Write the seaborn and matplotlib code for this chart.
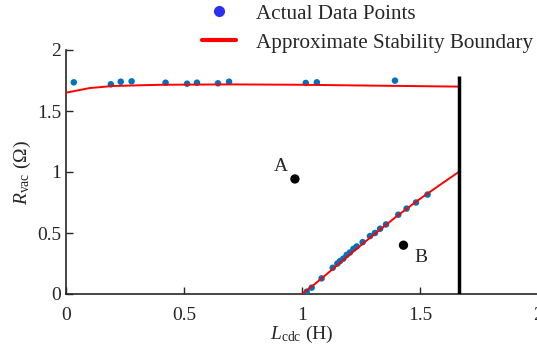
import numpy as np
import pandas as pd
import seaborn as sns
import matplotlib
matplotlib.use('Agg')
import matplotlib.pyplot as plt
from matplotlib.lines import Line2D

# puntos medidos, rama superior
upper_x = [0.033, 0.190, 0.232, 0.278, 0.422, 0.513, 0.555, 0.644, 0.691, 1.016, 1.063, 1.394]
upper_y = [1.735, 1.719, 1.740, 1.743, 1.732, 1.724, 1.732, 1.727, 1.740, 1.730, 1.735, 1.749]

# puntos medidos, rama inferior
lower_x = [1.020, 1.041, 1.083, 1.130, 1.150, 1.161, 1.175, 1.189, 1.203, 1.218, 1.232,
           1.257, 1.288, 1.309, 1.331, 1.356, 1.408, 1.443, 1.483, 1.532]
lower_y = [0.019, 0.052, 0.128, 0.215, 0.250, 0.270, 0.290, 0.320, 0.340, 0.370, 0.390,
           0.425, 0.475, 0.500, 0.535, 0.570, 0.650, 0.700, 0.750, 0.815]

# frontera aproximada (dos tramos)
bound_up_x = [0.0, 0.1, 0.2, 0.4, 0.7, 1.0, 1.3, 1.664]
bound_up_y = [1.650, 1.688, 1.705, 1.715, 1.718, 1.715, 1.708, 1.700]
bound_lo_x = [1.0, 1.05, 1.1, 1.2, 1.3, 1.4, 1.5, 1.6, 1.664]
bound_lo_y = [0.0, 0.075, 0.155, 0.320, 0.480, 0.635, 0.780, 0.915, 1.0]

# limite vertical
limit_x = 1.664
limit_top = 1.787

# puntos de operacion A y B
op_labels = ['A', 'B']
op_x = [0.970, 1.430]
op_y = [0.943, 0.400]

sns.set_style('ticks')
plt.rcParams['font.family'] = ['Liberation Serif', 'DejaVu Serif']
plt.rcParams['mathtext.fontset'] = 'custom'
plt.rcParams['mathtext.rm'] = 'Liberation Serif'
plt.rcParams['mathtext.it'] = 'Liberation Serif:italic'

blue = '#0072BD'
red = '#FF0000'

fig = plt.figure(figsize=(5.37, 3.52), dpi=100)
ax = fig.add_axes([66 / 537, 58 / 352, 472 / 537, 244 / 352])

pts = pd.DataFrame({'x': upper_x + lower_x, 'y': upper_y + lower_y})
sns.scatterplot(data=pts, x='x', y='y', color=blue, s=22, edgecolor='none', ax=ax, zorder=3)

up = pd.DataFrame({'x': bound_up_x, 'y': bound_up_y})
lo = pd.DataFrame({'x': bound_lo_x, 'y': bound_lo_y})
sns.lineplot(data=up, x='x', y='y', color=red, lw=1.4, ax=ax, zorder=4, sort=False)
sns.lineplot(data=lo, x='x', y='y', color=red, lw=1.4, ax=ax, zorder=4, sort=False)

ax.vlines(limit_x, 0, limit_top, color='black', lw=2.5, zorder=5)

ops = pd.DataFrame({'x': op_x, 'y': op_y})
sns.scatterplot(data=ops, x='x', y='y', color='black', s=45, edgecolor='none', ax=ax, zorder=5)
ax.annotate(op_labels[0], (op_x[0], op_y[0]), xytext=(-15, 6), textcoords='offset points',
            fontsize=14)
ax.annotate(op_labels[1], (op_x[1], op_y[1]), xytext=(8, -12), textcoords='offset points',
            fontsize=14)

ax.set_xlim(0, 2)
ax.set_ylim(0, 2)
ax.set_xticks([0, 0.5, 1, 1.5, 2])
ax.set_xticklabels(['0', '0.5', '1', '1.5', '2'])
ax.set_yticks([0, 0.5, 1, 1.5, 2])
ax.set_yticklabels(['0', '0.5', '1', '1.5', '2'])
ax.tick_params(direction='in', length=5, width=1, labelsize=14, colors='#262626',
               labelcolor='#262626')
ax.tick_params(axis='x', pad=9)
for s in ['top', 'right']:
    ax.spines[s].set_visible(False)
for s in ['left', 'bottom']:
    ax.spines[s].set_linewidth(1.2)
    ax.spines[s].set_color('#262626')

ax.set_xlabel(r'$L_{\mathrm{cdc}}$ (H)', fontsize=14, labelpad=0)
ax.set_ylabel(r'$R_{\mathrm{vac}}$ ($\Omega$)', fontsize=14, labelpad=3)

handles = [Line2D([], [], marker='o', color='none', markerfacecolor='#2E2EF0',
                  markeredgecolor='none', markersize=8),
           Line2D([], [], color=red, lw=3)]
fig.legend(handles, ['Actual Data Points', 'Approximate Stability Boundary'],
           loc='upper left', bbox_to_anchor=(202 / 537, 1 - 4 / 352), frameon=False,
           fontsize=15.2, borderpad=0, borderaxespad=0, handlelength=1.6,
           handletextpad=0.95, labelspacing=0.44)

fig.savefig('out.png', dpi=100)
